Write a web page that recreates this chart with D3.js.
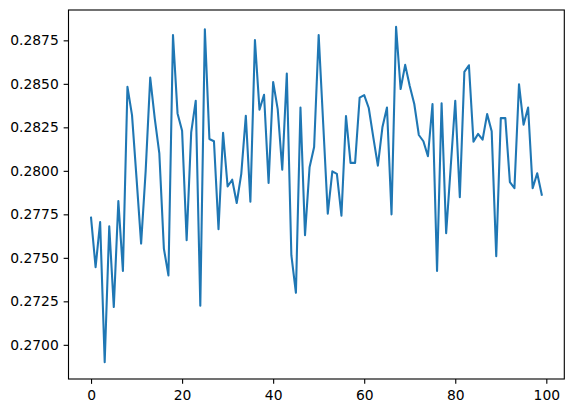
<!DOCTYPE html>
<html>
<head>
<meta charset="utf-8">
<script src="https://cdn.jsdelivr.net/npm/d3@7"></script>
<style>
  html, body { margin: 0; padding: 0; background: #fff; }
  svg { display: block; }
  text { font-family: "DejaVu Sans", sans-serif; }
</style>
</head>
<body>
<svg id="chart" width="573" height="413"></svg>
<script>
const xIndex = d3.range(100);
const values = [
  0.27731, 0.27446, 0.27706, 0.26900, 0.27681, 0.27217, 0.27826, 0.27424, 0.28483, 0.28320,
  0.27955, 0.27582, 0.28000, 0.28536, 0.28300, 0.28100, 0.27553, 0.27399, 0.28780, 0.28330,
  0.28231, 0.27601, 0.28221, 0.28403, 0.27225, 0.28813, 0.28183, 0.28170, 0.27664, 0.28218,
  0.27910, 0.27949, 0.27815, 0.27983, 0.28317, 0.27823, 0.28752, 0.28351, 0.28437, 0.27931,
  0.28511, 0.28355, 0.28006, 0.28559, 0.27515, 0.27299, 0.28364, 0.27630, 0.28021, 0.28137,
  0.28780, 0.28268, 0.27754, 0.27997, 0.27983, 0.27742, 0.28315, 0.28046, 0.28046, 0.28421,
  0.28435, 0.28361, 0.28192, 0.28030, 0.28250, 0.28364, 0.27750, 0.28828, 0.28470, 0.28609,
  0.28488, 0.28384, 0.28206, 0.28170, 0.28084, 0.28384, 0.27424, 0.28388, 0.27641, 0.28022,
  0.28403, 0.27849, 0.28569, 0.28607, 0.28168, 0.28212, 0.28179, 0.28326, 0.28227, 0.27509,
  0.28303, 0.28303, 0.27935, 0.27900, 0.28498, 0.28265, 0.28364, 0.27900, 0.27986, 0.27863
];
const xTicks = [0, 20, 40, 60, 80, 100];
const yTicks = [0.2700, 0.2725, 0.2750, 0.2775, 0.2800, 0.2825, 0.2850, 0.2875];

const svg = d3.select("#chart");
const plotL = 68.5, plotR = 564.3, plotT = 10, plotB = 379;
const pt = 100 / 72;

const xMin = d3.min(xIndex), xMax = d3.max(xIndex);
const xPad = (xMax - xMin) * 0.05;
const x = d3.scaleLinear().domain([xMin - xPad, xMax + xPad]).range([plotL, plotR]);
const yMin = d3.min(values), yMax = d3.max(values);
const yPad = (yMax - yMin) * 0.05;
const y = d3.scaleLinear().domain([yMin - yPad, yMax + yPad]).range([plotB, plotT]);

// line
const line = d3.line().x((d, i) => x(xIndex[i])).y(d => y(d));
svg.append("path")
  .datum(values)
  .attr("d", line)
  .attr("fill", "none")
  .attr("stroke", "#1f77b4")
  .attr("stroke-width", 1.5 * pt)
  .attr("stroke-linejoin", "round")
  .attr("stroke-linecap", "square");

// axes
const xAxis = d3.axisBottom(x).tickValues(xTicks).tickFormat(d3.format("d"))
  .tickSizeInner(3.5 * pt).tickSizeOuter(0).tickPadding(3.5 * pt);
const yAxis = d3.axisLeft(y).tickValues(yTicks).tickFormat(d3.format(".4f"))
  .tickSizeInner(3.5 * pt).tickSizeOuter(0).tickPadding(3.5 * pt);

const gx = svg.append("g").attr("transform", `translate(0,${plotB})`).call(xAxis);
const gy = svg.append("g").attr("transform", `translate(${plotL},0)`).call(yAxis);
[gx, gy].forEach(g => {
  g.select(".domain").remove();
  g.selectAll(".tick line").attr("stroke", "#000").attr("stroke-width", 0.8 * pt);
  g.selectAll(".tick text").attr("fill", "#000")
    .style("font-family", "'DejaVu Sans', sans-serif")
    .style("font-size", (10 * pt) + "px");
});
gx.selectAll(".tick text").attr("dy", "0.78em");

// frame
svg.append("rect")
  .attr("x", plotL).attr("y", plotT)
  .attr("width", plotR - plotL).attr("height", plotB - plotT)
  .attr("fill", "none").attr("stroke", "#000").attr("stroke-width", 0.8 * pt);
</script>
</body>
</html>
